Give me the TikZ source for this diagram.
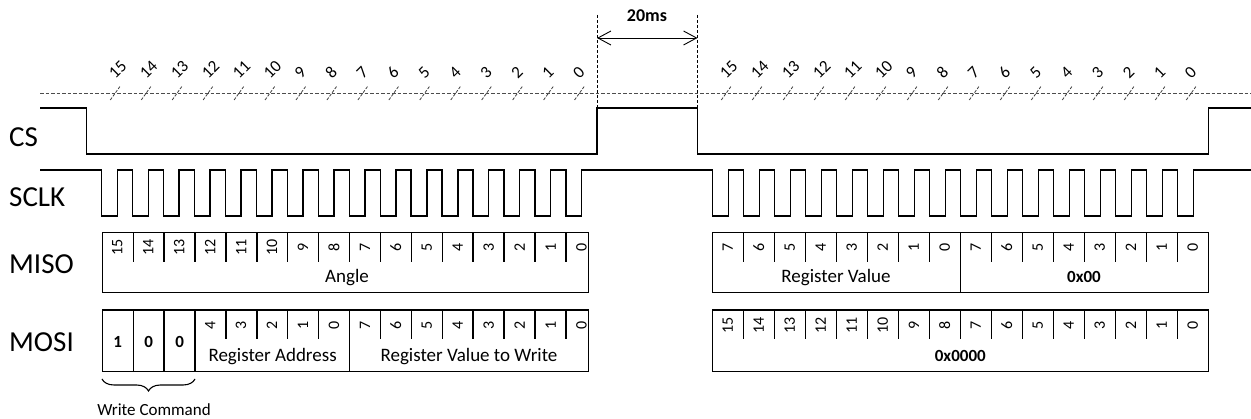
\documentclass[tikz,border=0pt]{standalone}
\usepackage{fontspec}
\setmainfont{Carlito}
\usetikzlibrary{arrows.meta,decorations.pathreplacing}
\begin{document}
\begin{tikzpicture}[x=1pt,y=-1pt,
  sig/.style={line width=1.5pt},
  frame/.style={line width=1.4pt},
  guide/.style={line width=0.8pt, black!70, dash pattern=on 3.5pt off 2pt},
  vguide/.style={line width=0.8pt, black, dash pattern=on 3pt off 2pt},
  tickmark/.style={line width=0.8pt, black!75, dash pattern=on 3pt off 1.5pt},
  siglabel/.style={font=\fontsize{29}{32}\selectfont, anchor=west, inner sep=0pt},
  toplabel/.style={font=\fontsize{17}{20}\selectfont, rotate=45, anchor=base west, inner sep=0pt},
  celldigit/.style={font=\fontsize{16}{18}\selectfont, rotate=90, inner sep=0pt},
  fieldtext/.style={font=\fontsize{19}{22}\selectfont, anchor=base, inner sep=0pt},
  fieldbold/.style={font=\fontsize{17}{20}\selectfont\bfseries, anchor=base, inner sep=0pt},
  bitbold/.style={font=\fontsize{17}{20}\selectfont\bfseries, inner sep=0pt},
]
\useasboundingbox (0,0) rectangle (1251,419);

% signal names
\node[siglabel] (cs) at (9,137) {CS};
\node[siglabel] (sclk) at (9,197) {SCLK};
\node[siglabel] (miso) at (9,264) {MISO};
\node[siglabel] (mosi) at (9,342) {MOSI};

% dashed reference line
\draw[guide] (40,93.3) -- (1251,93.3);

% ticks and bit labels
\foreach \k in {0,...,15}{
  \pgfmathsetmacro\ra{117.3+30.95*\k}
  \pgfmathsetmacro\rb{728.3+31*\k}
  \pgfmathtruncatemacro\b{15-\k}
  \draw[tickmark] (\ra-7,100) -- (\ra+3,86);
  \draw[tickmark] (\rb-7,100) -- (\rb+3,86);
  \node[toplabel] (tl\k) at (\ra-2,80) {\b};
  \node[toplabel] (tr\k) at (\rb-2,80) {\b};
}

% CS
\draw[sig] (40,108) -- (86.7,108) -- (86.7,154) -- (597,154) -- (597,108)
  -- (697.5,108) -- (697.5,154) -- (1208.3,154) -- (1208.3,108) -- (1251,108);

% SCLK
\draw[sig] (40,170)
  foreach \k in {0,...,15} { -- ({101.7+30.95*\k},170) -- ({101.7+30.95*\k},216)
     -- ({117.3+30.95*\k},216) -- ({117.3+30.95*\k},170) }
  foreach \k in {0,...,15} { -- ({712.3+31*\k},170) -- ({712.3+31*\k},216)
     -- ({728.3+31*\k},216) -- ({728.3+31*\k},170) }
  -- (1251,170);

% 20ms
\coordinate (g1) at (597,15);
\coordinate (g2) at (697.5,15);
\draw[vguide] (g1) -- (597,108);
\draw[vguide] (g2) -- (697.5,108);
\coordinate (a1) at (597,38);
\coordinate (a2) at (697.5,38);
\draw[line width=0.9pt, {Straight Barb[length=13pt,width=14pt]}-{Straight Barb[length=13pt,width=14pt]}] (a1) -- (a2);
\node[font=\fontsize{18}{20}\selectfont\bfseries] (ms) at (647,16) {20ms};

% ---------- left MISO ----------
\draw[frame] (102.3,232.3) rectangle (588.3,292.7);
\foreach \k in {1,...,15} \draw[frame] ({102.3+30.9*\k},232.3) -- ++(0,29.5);
\foreach \k in {0,...,15}{
  \pgfmathtruncatemacro\b{15-\k}
  \node[celldigit] (ml\k) at ({117.3+30.95*\k},247.5) {\b};
}
\node[fieldtext] (angle) at (347,283) {Angle};

% ---------- left MOSI ----------
\draw[frame] (102.3,310) rectangle (588.3,371.5);
\foreach \k in {1,2,3,8} \draw[frame] ({102.3+30.9*\k},310) -- (102.3+30.9*\k,371.5);
\foreach \k in {4,5,6,7,9,10,11,12,13,14,15} \draw[frame] ({102.3+30.9*\k},310) -- ++(0,29.5);
\foreach \k in {3,...,7}{
  \pgfmathtruncatemacro\b{7-\k}
  \node[celldigit] (oa\k) at ({117.3+30.95*\k},325.5) {\b};
}
\foreach \k in {8,...,15}{
  \pgfmathtruncatemacro\b{15-\k}
  \node[celldigit] (ob\k) at ({117.3+30.95*\k},325.5) {\b};
}
\node[bitbold] (w1) at (117.8,341.7) {1};
\node[bitbold] (w2) at (148.7,341.7) {0};
\node[bitbold] (w3) at (179.6,341.7) {0};
\node[fieldtext] (regaddr) at (272.6,362) {Register Address};
\node[fieldtext] (regwr) at (469,362) {Register Value to Write};

% brace
\coordinate (b1) at (102,379);
\coordinate (b2) at (195,379);
\draw[line width=1.1pt, decorate, decoration={brace, mirror, amplitude=12pt}] (b1) -- (b2);
\node[font=\fontsize{17}{20}\selectfont] (wc) at (154,410) {Write Command};

% ---------- right MISO ----------
\draw[frame] (712.3,232.3) rectangle (1208.3,292.7);
\foreach \k in {1,...,7,9,10,11,12,13,14,15} \draw[frame] ({712.3+31*\k},232.3) -- ++(0,29.5);
\draw[frame] (960.3,232.3) -- (960.3,292.7);
\foreach \k in {0,...,7}{
  \pgfmathtruncatemacro\b{7-\k}
  \node[celldigit] (ra\k) at ({727.8+31*\k},247.5) {\b};
}
\foreach \k in {8,...,15}{
  \pgfmathtruncatemacro\b{15-\k}
  \node[celldigit] (rb\k) at ({727.8+31*\k},247.5) {\b};
}
\node[fieldtext] (regval) at (836,283) {Register Value};
\node[fieldbold] (z2) at (1084,283) {0x00};

% ---------- right MOSI ----------
\draw[frame] (712.3,310) rectangle (1208.3,371.5);
\foreach \k in {1,...,15} \draw[frame] ({712.3+31*\k},310) -- ++(0,29.5);
\foreach \k in {0,...,15}{
  \pgfmathtruncatemacro\b{15-\k}
  \node[celldigit] (rc\k) at ({727.8+31*\k},325.5) {\b};
}
\node[fieldbold] (z4) at (960.3,362) {0x0000};
\end{tikzpicture}
\end{document}
